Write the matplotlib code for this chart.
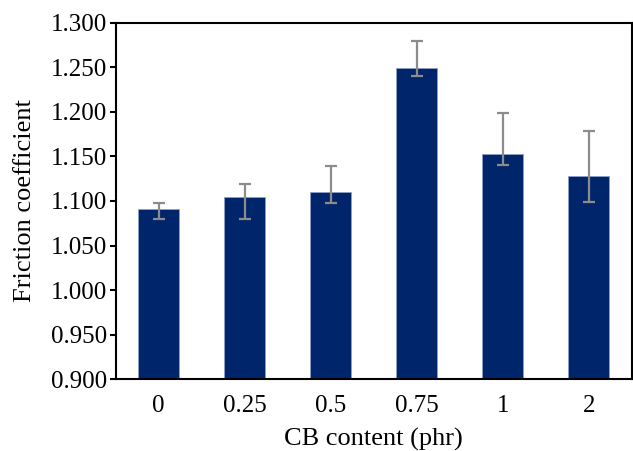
import matplotlib
matplotlib.use("Agg")
import matplotlib.pyplot as plt
import numpy as np

categories = ["0", "0.25", "0.5", "0.75", "1", "2"]
values = [1.091, 1.104, 1.110, 1.249, 1.153, 1.128]
err_upper = [1.098, 1.119, 1.139, 1.279, 1.199, 1.179]
err_lower = [1.080, 1.080, 1.098, 1.240, 1.140, 1.099]
yticks = [0.900, 0.950, 1.000, 1.050, 1.100, 1.150, 1.200, 1.250, 1.300]

plt.rcParams['font.family'] = ['Liberation Serif', 'DejaVu Serif']

fig = plt.figure(figsize=(6.33, 4.51), dpi=100)
ax = fig.add_axes([0.1828, 0.159, 0.998 - 0.1828, 0.9497 - 0.159])

x = np.arange(len(categories))
vals = np.array(values)
yerr = np.array([vals - np.array(err_lower), np.array(err_upper) - vals])
ax.bar(x, vals, width=0.48, color="#00256B", edgecolor="#8FA0C8", linewidth=0.6, zorder=2)
ax.errorbar(x, vals, yerr=yerr, fmt="none", ecolor="#8C8C8C", elinewidth=1.6,
            capsize=4.5, capthick=1.6, zorder=3)

ax.set_xlim(-0.5, 5.5)
ax.set_ylim(0.9, 1.3)
ax.set_yticks(yticks)
ax.set_yticklabels([f"{t:.3f}" for t in yticks])
ax.set_xticks(x)
ax.set_xticklabels(categories)
ax.tick_params(axis="x", length=0, pad=11, labelsize=18)
ax.tick_params(axis="y", length=4, width=1.5, pad=2, labelsize=18, direction="out")
for s in ax.spines.values():
    s.set_linewidth(1.5)
    s.set_color("black")

ax.set_xlabel("CB content (phr)", fontsize=19, labelpad=8)
ax.set_ylabel("Friction coefficient", fontsize=19, labelpad=11)

fig.savefig("out.png", dpi=100)
